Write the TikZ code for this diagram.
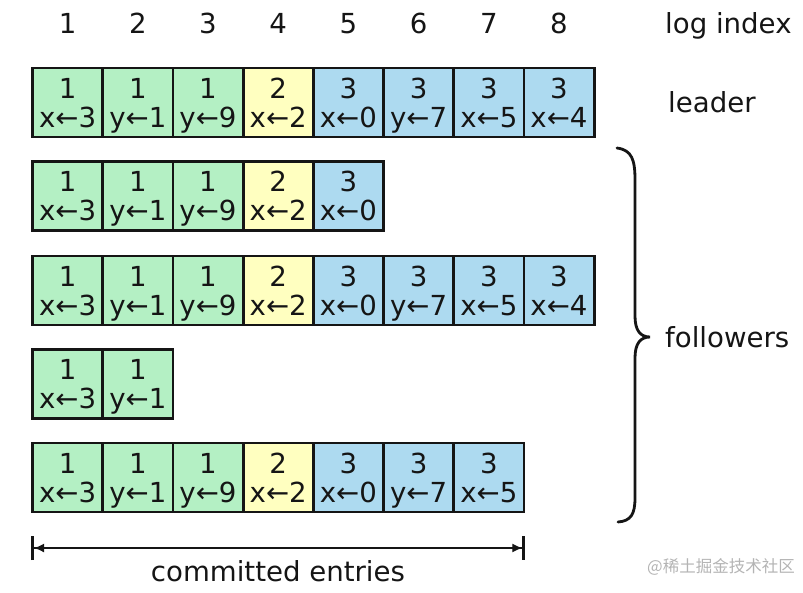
\documentclass[tikz,border=0pt]{standalone}
\usepackage{fontspec}
\setmainfont{DejaVu Sans}
\newfontfamily\cjk{Noto Sans CJK SC}
\usepackage{xcolor}
\usepackage{tikz}
\usetikzlibrary{arrows.meta,positioning}
\definecolor{ink}{HTML}{151515}
\definecolor{termgreen}{HTML}{B4F0C4}
\definecolor{termyellow}{HTML}{FFFFC0}
\definecolor{termblue}{HTML}{ADDAF0}
\definecolor{mark}{HTML}{B4B4B4}
\tikzset{
  entry/.style={draw=ink, line width=2.8pt, minimum width=70.2pt, minimum height=69pt,
    inner sep=0pt, align=center, text depth=0pt, text=ink, font=\fontsize{27.6}{29}\selectfont},
  term1/.style={entry, fill=termgreen},
  term2/.style={entry, fill=termyellow},
  term3/.style={entry, fill=termblue},
  lbl/.style={text=ink, inner sep=0pt, font=\fontsize{27.6}{29}\selectfont},
  brace/.style={draw=ink, line width=2.8pt, line cap=round},
  span/.style={draw=ink, line width=1.3pt,
    {Bar[width=24pt,line width=3pt]Latex[length=10pt,width=9pt]}-{Latex[length=10pt,width=9pt]Bar[width=24pt,line width=3pt]}}
}
\begin{document}
\begin{tikzpicture}[x=1pt, y=-1pt]
  \useasboundingbox (0,0) rectangle (803,592);
  \def\w{70.2}

  % log rows: leader first, then the followers
  \foreach \row/\ycen/\entries in {
      lead/102.5/{1/x←3,1/y←1,1/y←9,2/x←2,3/x←0,3/y←7,3/x←5,3/x←4},
      f1/196/{1/x←3,1/y←1,1/y←9,2/x←2,3/x←0},
      f2/290.5/{1/x←3,1/y←1,1/y←9,2/x←2,3/x←0,3/y←7,3/x←5,3/x←4},
      f3/384/{1/x←3,1/y←1},
      f4/477.5/{1/x←3,1/y←1,1/y←9,2/x←2,3/x←0,3/y←7,3/x←5}}{
    \foreach \term/\cmd [count=\i] in \entries
      \node[term\term] (\row-\i) at ({32.5+\w*(\i-0.5)},\ycen) {\term\\\cmd};
  }

  % index numbers
  \foreach \i in {1,...,8}
    \node[lbl, anchor=base] (idx-\i) at ({32.5+\w*(\i-0.5)},33) {\i};
  \node[lbl, anchor=base west] (idxlabel) at (665,33) {log index};
  \node[lbl, anchor=base west] (leader) at (668,112.5) {leader};
  \node[lbl, anchor=base west] (followers) at (665,347) {followers};

  % brace
  \draw[brace] (617,148) .. controls (632,150) and (635,160) .. (635,180)
    -- (635,316) .. controls (635,330) and (640,337) .. (650,337)
    .. controls (640,337) and (635,344) .. (635,358)
    -- (635,498) .. controls (635,514) and (631,521) .. (618,522);

  % committed span
  \coordinate (cl) at (f4-1.west |- 0,548);
  \coordinate (cr) at (f4-7.east |- 0,548);
  \draw[span] (cl) -- (cr);
  \node[lbl, anchor=base] (committed) at (278,581) {committed entries};

  \node[text=mark, inner sep=0pt, anchor=base east, font=\cjk\fontsize{16.5}{18}\selectfont]
    (mark) at (795,572) {@稀土掘金技术社区};
\end{tikzpicture}
\end{document}
